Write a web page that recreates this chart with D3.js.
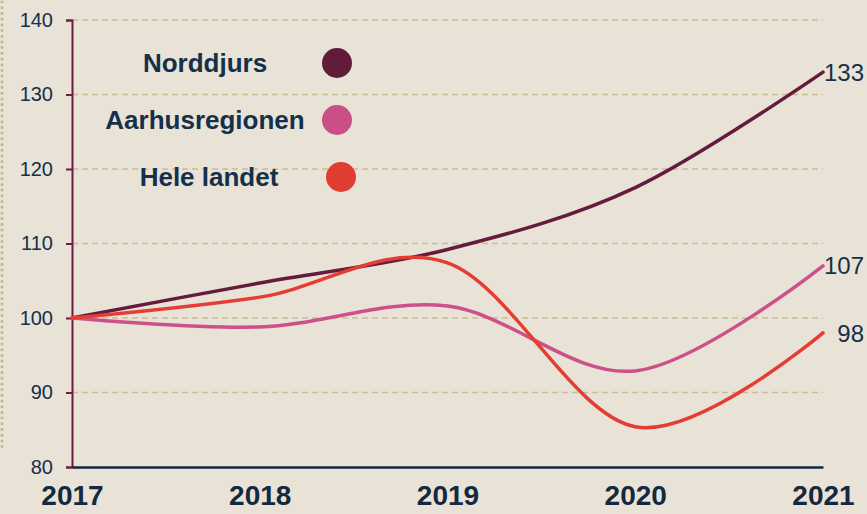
<!DOCTYPE html>
<html><head><meta charset="utf-8">
<script src="https://cdn.jsdelivr.net/npm/d3@7"></script>
<style>
html,body{margin:0;padding:0;background:#e8e2d7;}
svg{display:block;font-family:"Liberation Sans",Arial,sans-serif;}
</style></head>
<body><svg id="c" width="867" height="514"></svg>
<script>
const years = [2017, 2018, 2019, 2020, 2021];
const seriesNames = ["Norddjurs", "Aarhusregionen", "Hele landet"];
const norddjurs = [100, 104.7, 109.2, 117.5, 133];
const aarhusregionen = [100, 98.8, 101.6, 92.9, 107];
const heleLandet = [100, 102.8, 107.4, 85.4, 98];
const endLabels = ["133", "107", "98"];
const yTicks = [80, 90, 100, 110, 120, 130, 140];
const colors = ["#651b3d", "#cd508a", "#e43d33"];
const legendColors = ["#611c3a", "#c95087", "#e03c30"];

const seriesValues = [norddjurs, aarhusregionen, heleLandet];
const svg = d3.select("#c");
svg.append("rect").attr("width",867).attr("height",514).attr("fill","#e8e2d7");

const x = d3.scaleLinear().domain([2017, 2021]).range([72, 823]);
const y = d3.scaleLinear().domain([80, 140]).range([467, 20]);

// dotted left border
svg.append("line").attr("x1",2).attr("x2",2).attr("y1",2).attr("y2",447)
  .attr("stroke","#c9b48a").attr("stroke-width",3).attr("stroke-linecap","round")
  .attr("stroke-dasharray","0,5.7");

// gridlines
svg.append("g").selectAll("line").data(yTicks.filter(t=>t>80)).join("line")
  .attr("x1",x(2017)).attr("x2",x(2021)).attr("y1",d=>y(d)).attr("y2",d=>y(d))
  .attr("stroke","#cdbb96").attr("stroke-width",1.3).attr("stroke-dasharray","6,4");

// left axis
const ya = svg.append("g").attr("transform",`translate(${x(2017)},0)`)
  .call(d3.axisLeft(y).tickValues(yTicks).tickSize(6).tickPadding(13).tickFormat(d3.format("d")));
ya.select(".domain").attr("stroke","#6b1d42").attr("stroke-width",2);
ya.selectAll(".tick line").attr("stroke","#6b1d42").attr("stroke-width",2);
ya.selectAll(".tick text").attr("fill","#14304a").attr("font-size",20)
  .attr("font-family","'Liberation Sans',Arial,sans-serif");

// bottom axis
const xa = svg.append("g").attr("transform",`translate(0,${y(80)})`)
  .call(d3.axisBottom(x).tickValues(years).tickSize(0).tickPadding(18).tickFormat(d3.format("d")));
xa.select(".domain").attr("stroke","#14283e").attr("stroke-width",2.5);
xa.selectAll(".tick text").attr("fill","#14283e").attr("font-size",28).attr("font-weight","bold")
  .attr("font-family","'Liberation Sans',Arial,sans-serif");

// lines
const line = d3.line().x((d,i)=>x(years[i])).y(d=>y(d)).curve(d3.curveCatmullRom.alpha(0));
svg.append("g").selectAll("path").data(seriesValues).join("path")
  .attr("d", d=>line(d)).attr("fill","none")
  .attr("stroke",(d,i)=>colors[i]).attr("stroke-width",3.5).attr("stroke-linecap","round");

// end labels
svg.append("g").selectAll("text").data(seriesValues).join("text")
  .attr("x", 864).attr("y", d=>y(d[d.length-1]))
  .attr("text-anchor","end").attr("dy","0.36em")
  .attr("font-size",24).attr("fill","#14304a")
  .text((d,i)=>endLabels[i]);

// legend
const legTextX = [205, 205, 209];
const legY = [63, 120, 177];
const legCircleX = [337, 337, 341];
const lg = svg.append("g");
seriesNames.forEach((name,i)=>{
  lg.append("text").attr("x",legTextX[i]).attr("y",legY[i]).attr("dy","0.36em")
    .attr("text-anchor","middle").attr("font-size",26).attr("font-weight","bold")
    .attr("fill","#14304a").text(name);
  lg.append("circle").attr("cx",legCircleX[i]).attr("cy",legY[i]).attr("r",15)
    .attr("fill",legendColors[i]);
});
</script></body></html>
